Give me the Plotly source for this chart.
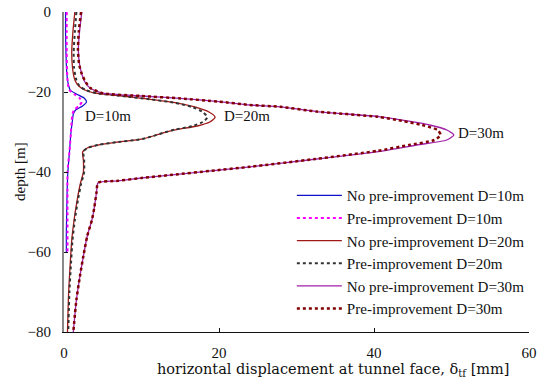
import plotly.graph_objects as go

# ---- data (x = horizontal displacement [mm], y = depth [m]) ----
d10_no_depth = [0, -5, -10, -15, -18, -19.5, -20.5, -21.5, -22.5, -23.5, -24.5, -25.5, -27, -30, -35, -40, -45, -50, -55, -60]
d10_no_x     = [0.2, 0.2, 0.25, 0.35, 0.55, 0.8, 1.6, 2.6, 2.9, 2.4, 1.5, 1.2, 1.1, 0.9, 0.7, 0.5, 0.4, 0.35, 0.3, 0.3]

d10_pre_depth = [0, -5, -10, -15, -18, -19.5, -20.5, -21.5, -22.5, -23.5, -24.5, -25.5, -27, -30, -35, -40, -45, -50, -55, -60]
d10_pre_x     = [0.35, 0.35, 0.35, 0.4, 0.5, 0.7, 1.3, 2.0, 2.3, 1.9, 1.3, 1.1, 1.0, 0.9, 0.7, 0.45, 0.45, 0.45, 0.45, 0.45]

d20_no_depth = [0, -5, -10, -14, -17, -18.5, -19.5, -20.3, -21.0, -21.8, -22.7, -23.8, -25.0, -26.3, -27.5, -28.5, -29.4, -30.2, -31.0, -31.8, -32.5, -33.2, -34.0, -35.0, -37, -40, -43, -47, -52, -57, -63, -70, -80]
d20_no_x     = [1.4, 1.15, 1.0, 1.1, 1.4, 1.9, 2.7, 4.0, 7.5, 11.0, 14.5, 17.0, 18.7, 19.5, 18.8, 17.2, 14.5, 12.8, 11.5, 10.0, 7.0, 4.5, 3.0, 2.4, 2.5, 2.5, 2.1, 1.7, 1.3, 1.0, 0.8, 0.6, 0.45]

d20_pre_depth = [0, -5, -10, -14, -17, -18.5, -19.5, -20.3, -21.0, -21.8, -22.7, -23.8, -25.0, -26.3, -27.5, -28.5, -29.4, -30.2, -31.0, -31.8, -32.5, -33.2, -34.0, -35.0, -37, -40, -43, -47, -52, -57, -63, -70, -80]
d20_pre_x     = [1.6, 1.4, 1.25, 1.3, 1.6, 2.0, 2.8, 4.2, 7.5, 11.0, 14.3, 16.6, 17.9, 18.5, 17.9, 16.6, 14.3, 12.8, 11.5, 10.0, 7.0, 4.5, 3.0, 2.5, 2.6, 2.6, 2.2, 1.8, 1.4, 1.1, 0.9, 0.7, 0.55]

d30_no_depth = [0, -5, -9.5, -13, -15.5, -17.5, -19, -20.3, -21.0, -21.6, -22.4, -23.25, -23.7, -24.9, -26.2, -27.3, -28.25, -29.5, -30.75, -32.0, -33.25, -34.7, -36.75, -38.7, -39.7, -40.7, -41.5, -42.2, -42.7, -45, -49, -52, -56, -61, -66, -72, -80]
d30_no_x     = [2.3, 2.0, 1.85, 2.0, 2.3, 2.7, 3.35, 5.0, 10.0, 15.0, 20.0, 24.0, 27.9, 32.6, 40.8, 44.5, 47.2, 49.4, 50.3, 49.4, 45.5, 41.2, 32.6, 24.0, 19.0, 14.0, 10.0, 7.0, 4.4, 4.2, 3.9, 3.6, 3.0, 2.5, 2.06, 1.6, 1.2]

d30_pre_depth = [0, -5, -9.5, -13, -15.5, -17.5, -19, -20.3, -21.0, -21.6, -22.4, -23.25, -23.7, -24.9, -26.2, -27.3, -28.25, -29.5, -30.75, -32.0, -33.25, -34.7, -36.75, -38.7, -39.7, -40.7, -41.5, -42.2, -42.7, -45, -49, -52, -56, -61, -66, -72, -80]
d30_pre_x     = [2.2, 1.9, 1.8, 1.95, 2.3, 2.8, 3.4, 5.0, 10.0, 15.0, 20.0, 24.0, 27.9, 32.6, 40.5, 43.8, 46.2, 48.2, 48.6, 47.8, 44.5, 40.5, 32.4, 24.0, 19.0, 14.0, 10.0, 7.0, 4.4, 4.2, 3.9, 3.6, 3.0, 2.5, 2.06, 1.6, 1.2]

series_names = ["No pre-improvement D=10m", "Pre-improvement D=10m",
                "No pre-improvement D=20m", "Pre-improvement D=20m",
                "No pre-improvement D=30m", "Pre-improvement D=30m"]
x_ticks = [0, 20, 40, 60]
y_ticks = [0, -20, -40, -60, -80]
curve_labels = ["D=10m", "D=20m", "D=30m"]
label_x = [2.45, 20.4, 50.6]
label_y = [-26.0, -26.0, -30.3]

FONT = "'Liberation Serif', 'Times New Roman', serif"
WIDE_FONT = "'DejaVu Serif', 'Liberation Serif', serif"

styles = [
    dict(color="#1010C8", width=1.2, dash="solid"),
    dict(color="#FF00FF", width=2, dash="3px,3px"),
    dict(color="#A01818", width=1.3, dash="solid"),
    dict(color="#333333", width=2, dash="3px,3px"),
    dict(color="#A020A8", width=1.3, dash="solid"),
    dict(color="#800000", width=2.5, dash="3px,3px"),
]
data = [(d10_no_x, d10_no_depth), (d10_pre_x, d10_pre_depth),
        (d20_no_x, d20_no_depth), (d20_pre_x, d20_pre_depth),
        (d30_no_x, d30_no_depth), (d30_pre_x, d30_pre_depth)]

fig = go.Figure()
for i, ((xs, ys), name, st) in enumerate(zip(data, series_names, styles)):
    fig.add_trace(go.Scatter(x=xs, y=ys, mode="lines", name=name,
                             line=dict(color=st["color"], width=st["width"], dash=st["dash"], shape="spline", smoothing=0.6),
                             legendgroup=f"g{i}"))

for t, lx, ly in zip(curve_labels, label_x, label_y):
    fig.add_annotation(x=lx, y=ly, text=t, showarrow=False, xanchor="left", yanchor="middle",
                       font=dict(family=FONT, size=15, color="#111"))

fig.add_annotation(x=0.5, y=0, xref="paper", yref="paper", yshift=-27,
                   text="horizontal displacement at tunnel face, δ<sub>tf</sub> [mm]",
                   showarrow=False, xanchor="center", yanchor="top", xshift=36,
                   font=dict(family=WIDE_FONT, size=14.5, color="#111"))
fig.add_annotation(x=0, y=0.5, xref="paper", yref="paper", text="depth [m]", textangle=-90,
                   showarrow=False, xanchor="center", yanchor="middle", xshift=-44,
                   font=dict(family=FONT, size=15, color="#111"))

fig.update_layout(
    width=546, height=381,
    margin=dict(l=64, r=17, t=12, b=49, autoexpand=False),
    paper_bgcolor="white", plot_bgcolor="white",
    font=dict(family=FONT, size=14, color="#111"),
    showlegend=True,
    legend=dict(x=0.49, y=0.478, xanchor="left", yanchor="top", bgcolor="rgba(0,0,0,0)",
                font=dict(family=FONT, size=15.1, color="#111"), itemwidth=45,
                tracegroupgap=0, traceorder="grouped"),
    xaxis=dict(range=[0, 60], tickvals=x_ticks, ticks="inside", ticklen=4, tickcolor="#111",
               showline=True, linecolor="#111", linewidth=1, showgrid=False, zeroline=False,
               automargin=False, ticklabelstandoff=7, tickfont=dict(family=FONT, size=15)),
    yaxis=dict(range=[-80, 0], tickvals=y_ticks, ticks="inside", ticklen=4, tickcolor="#111",
               showline=True, linecolor="#888", linewidth=2, showgrid=False, zeroline=False,
               automargin=False, ticklabelstandoff=8, tickfont=dict(family=FONT, size=15)),
)

fig.write_html("out.html", config={"displayModeBar": False},
               post_script="document.body.style.margin='0';document.body.style.padding='0';")
